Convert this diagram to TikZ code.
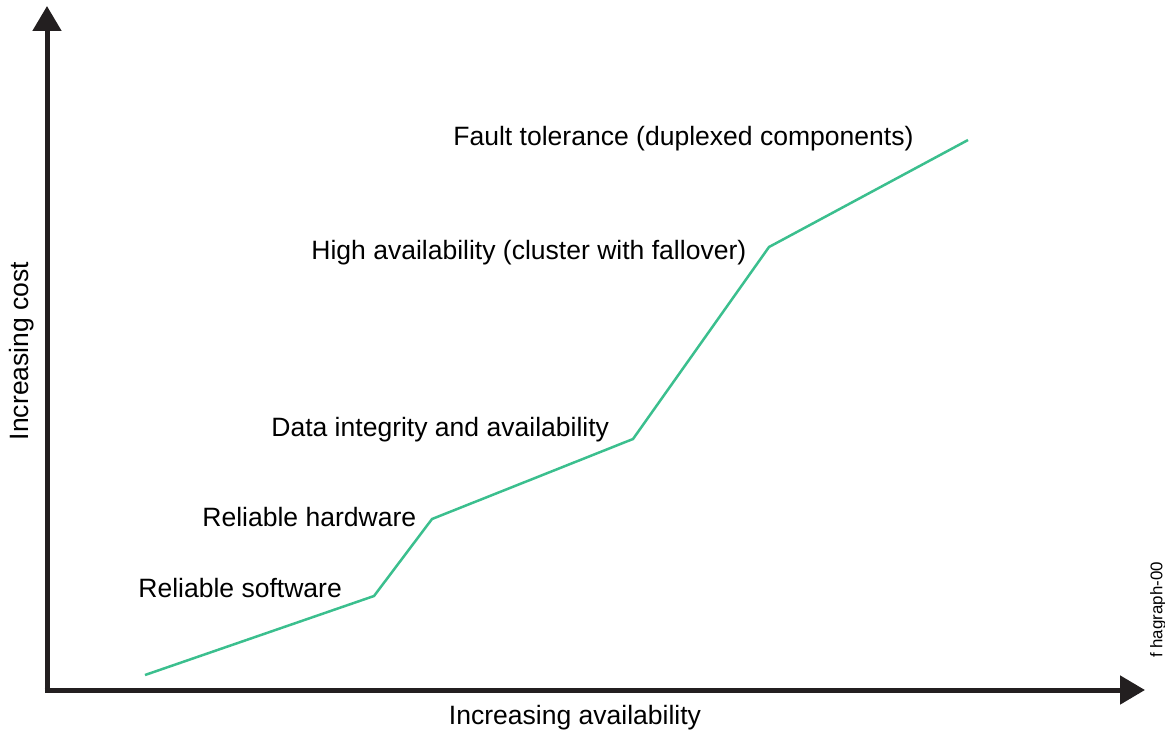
\documentclass[tikz,border=0pt]{standalone}
\usepackage{fontspec}
\setmainfont{Liberation Sans}
\usetikzlibrary{arrows.meta}
\definecolor{axisgray}{HTML}{231F20}
\definecolor{costgreen}{HTML}{3BBF8E}

\begin{document}
\begin{tikzpicture}[x=0.02cm,y=-0.02cm,
  axis/.style={line width=0.1cm,color=axisgray,-{Triangle[width=0.56cm,length=0.5cm]}},
  curve/.style={line width=0.05cm,color=costgreen},
  lbl/.style={anchor=west,font=\fontsize{15.1}{17}\selectfont,inner sep=0pt}]
\useasboundingbox (0,0) rectangle (1165,730);

% Corner points of the cost curve.
\coordinate (p0) at (145,675);
\coordinate (p1) at (374,596);
\coordinate (p2) at (432,519);
\coordinate (p3) at (633,439);
\coordinate (p4) at (769,247);
\coordinate (p5) at (968,140);

\draw[curve] (p0) -- (p1) -- (p2) -- (p3) -- (p4) -- (p5);

% Draw axes.
\coordinate (origin) at (47,690);
\coordinate (ytip) at (47,6);
\coordinate (xtip) at (1145,690);
\draw[axis] ([yshift=-0.05cm]origin) -- (ytip);
\draw[axis] ([xshift=-0.05cm]origin) -- (xtip);

\node[lbl] (soft) at (138,588) {Reliable software};
\node[lbl] (hard) at (202,517) {Reliable hardware};
\node[lbl] (data) at (271,430) {Data integrity and availability};
\node[lbl] (high) at (311,253) {High availability (cluster with fallover)};
\node[lbl] (fault) at (453,139) {Fault tolerance (duplexed components)};

\node[font=\fontsize{15.1}{17}\selectfont,inner sep=0pt] (xlab) at (575,718) {Increasing availability};
\node[font=\fontsize{15.1}{17}\selectfont,inner sep=0pt,rotate=90] (ylab) at (22,351) {Increasing cost};
\node[font=\fontsize{9.6}{11}\selectfont,inner sep=0pt,rotate=90] (tag) at (1158,610) {f hagraph-00};

\end{tikzpicture}
\end{document}
